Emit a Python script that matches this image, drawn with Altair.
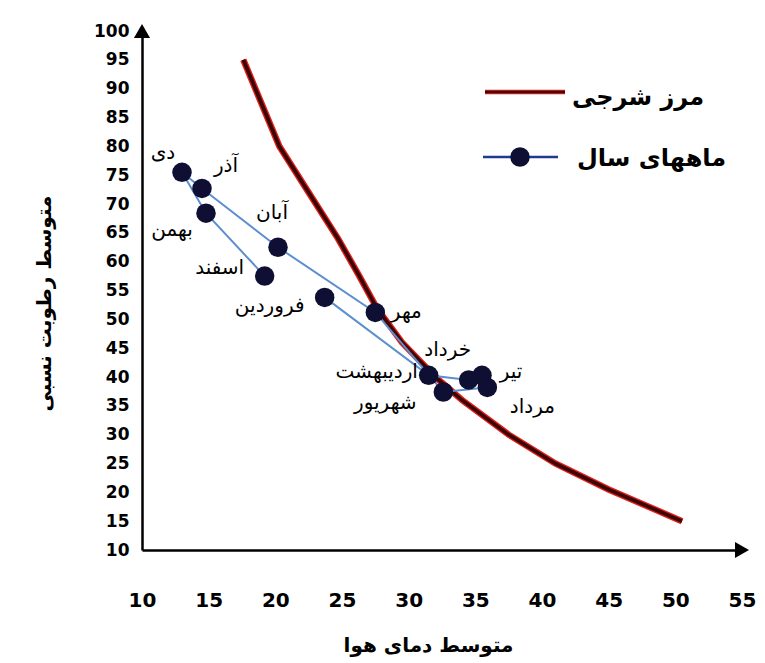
import altair as alt
import pandas as pd

# ---- data ----
months = ["فروردین", "اردیبهشت", "خرداد", "تیر", "مرداد", "شهریور",
          "مهر", "آبان", "آذر", "دی", "بهمن", "اسفند"]
month_temp = [23.7, 31.5, 34.5, 35.5, 35.9, 32.6, 27.5, 20.2, 14.5, 13.0, 14.8, 19.2]
month_humid = [53.8, 40.3, 39.5, 40.3, 38.2, 37.4, 51.2, 62.5, 72.7, 75.5, 68.4, 57.5]

limit_temp = [17.6, 20.3, 22.5, 24.7, 26.3, 27.6, 29.5, 32.0, 34.0, 37.5, 41.0, 45.0, 50.5]
limit_humid = [95.0, 80.0, 72.0, 64.0, 57.5, 52.0, 46.0, 40.0, 36.0, 30.0, 25.0, 20.5, 15.0]

x_ticks = [10, 15, 20, 25, 30, 35, 40, 45, 50, 55]
y_ticks = [10, 15, 20, 25, 30, 35, 40, 45, 50, 55, 60, 65, 70, 75, 80, 85, 90, 95, 100]

legend_names = ["مرز شرجی", "ماههای سال"]
x_title = "متوسط دمای هوا"
y_title = "متوسط رطوبت نسبی"

# ---- layout / style (not data) ----
label_offsets = {
    "دی": (-19, -19), "آذر": (24, -22), "بهمن": (-34, 17), "آبان": (-6, -34),
    "اسفند": (-45, -8), "فروردین": (-55, 9), "مهر": (31, 0),
    "اردیبهشت": (-52, -3), "خرداد": (-21, -30), "تیر": (29, -3),
    "مرداد": (45, 20), "شهریور": (-58, 11),
}
FONT = "DejaVu Sans"

df = pd.DataFrame({"month": months, "order": list(range(12)),
                   "temp": month_temp, "humid": month_humid})
lim = pd.DataFrame({"temp": limit_temp, "humid": limit_humid, "order": list(range(len(limit_temp)))})
arrows = pd.DataFrame({"temp": [55, 10], "humid": [10, 100],
                       "shape": ["triangle-right", "triangle-up"]})
one = pd.DataFrame({"a": [0]})

xscale = alt.Scale(domain=[10, 55], nice=False, zero=False)
yscale = alt.Scale(domain=[10, 100], nice=False, zero=False)
xaxis = alt.Axis(values=x_ticks, title=x_title, labelFontSize=20, labelPadding=40,
                 labelFlush=False, labelOverlap=False,
                 titleFontSize=20, titleX=286, titleY=95, titleAlign="center",
                 titleBaseline="middle")
yaxis = alt.Axis(values=y_ticks, title=y_title, labelFontSize=17, labelPadding=13,
                 labelFlush=False, labelOverlap=False,
                 titleFontSize=20, titleX=-98, titleY=272, titleAngle=270,
                 titleAlign="center", titleBaseline="middle")

X = alt.X("temp:Q", scale=xscale, axis=xaxis)
Y = alt.Y("humid:Q", scale=yscale, axis=yaxis)

red_outer = alt.Chart(lim).mark_line(color="#e3221c", strokeWidth=6.5).encode(x=X, y=Y, order="order:Q")
red_inner = alt.Chart(lim).mark_line(color="#3d0606", strokeWidth=3.8).encode(x=X, y=Y, order="order:Q")

blue = alt.Chart(df).mark_line(color="#5b8fd0", strokeWidth=2).encode(x=X, y=Y, order="order:Q")
dots = alt.Chart(df).mark_point(filled=True, size=380, color="#0f0f33", opacity=1).encode(x=X, y=Y)

labels = []
for m, (dx, dy) in label_offsets.items():
    labels.append(
        alt.Chart(df).transform_filter(alt.datum.month == m)
        .mark_text(dx=dx, dy=dy, font=FONT, fontSize=20, color="black", align="center", baseline="middle")
        .encode(x=X, y=Y, text="month:N")
    )

arrow_heads = alt.Chart(arrows).mark_point(filled=True, size=260, color="black", opacity=1).encode(
    x=X, y=Y, shape=alt.Shape("shape:N", scale=None))

leg_red = alt.Chart(one).mark_rule(color="#e3221c", strokeWidth=4.5).encode(
    x=alt.value(343), x2=alt.value(423), y=alt.value(61))
leg_red2 = alt.Chart(one).mark_rule(color="#3d0606", strokeWidth=2.5).encode(
    x=alt.value(343), x2=alt.value(423), y=alt.value(61))
leg_blue = alt.Chart(one).mark_rule(color="#1f3a93", strokeWidth=2.5).encode(
    x=alt.value(341), x2=alt.value(416), y=alt.value(126))
leg_dot = alt.Chart(one).mark_point(filled=True, size=380, color="#0f0f33", opacity=1).encode(
    x=alt.value(378), y=alt.value(126))
leg_t1 = alt.Chart(one).mark_text(align="left", baseline="middle", font=FONT, fontWeight="bold",
                                  fontSize=24, color="black").encode(
    x=alt.value(430), y=alt.value(67), text=alt.value(legend_names[0]))
leg_t2 = alt.Chart(one).mark_text(align="left", baseline="middle", font=FONT, fontWeight="bold",
                                  fontSize=24, color="black").encode(
    x=alt.value(435), y=alt.value(128), text=alt.value(legend_names[1]))

chart = alt.layer(
    red_outer, red_inner, blue, dots, *labels, arrow_heads,
    leg_red, leg_red2, leg_blue, leg_dot, leg_t1, leg_t2
).properties(
    width=600, height=519, autosize="none",
    padding={"left": 134, "top": 23, "right": 15, "bottom": 113}
).configure_view(stroke=None).configure_axis(
    grid=False, ticks=False, domainColor="black", domainWidth=2.5,
    labelFont=FONT, labelFontWeight="bold", labelColor="black",
    titleFont=FONT, titleFontWeight="bold", titleColor="black"
)

chart.save("out.html", embed_options={"renderer": "svg", "actions": False})
